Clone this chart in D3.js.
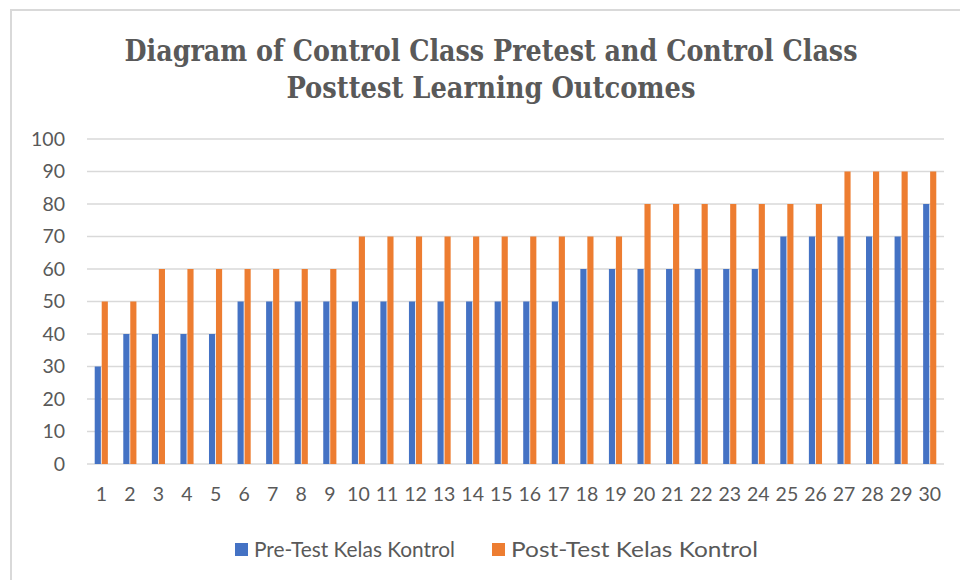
<!DOCTYPE html>
<html lang="en">
<head>
<meta charset="UTF-8">
<title>Control Class Pretest and Posttest</title>
<script src="https://d3js.org/d3.v7.min.js"></script>
<style>
  body { margin: 0; background: #fff; }
  svg { display: block; }
</style>
</head>
<body>
<div id="chart"></div>
<script>
// data
const students = d3.range(1, 31).map(String);
const preTest = [30, 40, 40, 40, 40, 50, 50, 50, 50, 50, 50, 50, 50, 50, 50, 50, 50, 60, 60, 60, 60, 60, 60, 60, 70, 70, 70, 70, 70, 80];
const postTest = [50, 50, 60, 60, 60, 60, 60, 60, 60, 70, 70, 70, 70, 70, 70, 70, 70, 70, 70, 80, 80, 80, 80, 80, 80, 80, 90, 90, 90, 90];
const seriesNames = ["Pre-Test Kelas Kontrol", "Post-Test Kelas Kontrol"];
const yTicks = [0, 10, 20, 30, 40, 50, 60, 70, 80, 90, 100];
const titleLines = ["Diagram of Control Class Pretest and Control Class", "Posttest Learning Outcomes"];

const colors = ["#4472C4", "#ED7D31"];
const W = 960, H = 580;
const plot = { left: 87, right: 944, top: 139, bottom: 464 };
const labelFont = "Lato, 'Open Sans', sans-serif";

const svg = d3.select("#chart").append("svg")
    .attr("width", W)
    .attr("height", H);

// outer frame (only top and left edges are inside the crop)
svg.append("path")
    .attr("d", `M11,${H} L11,10 L${W},10`)
    .attr("fill", "none")
    .attr("stroke", "#d9d9d9")
    .attr("stroke-width", 2);

// title
const titleWidths = [733, 409];
svg.append("g").selectAll("text")
    .data(titleLines)
    .join("text")
    .attr("x", 491)
    .attr("y", (d, i) => 61 + i * 37)
    .attr("text-anchor", "middle")
    .attr("font-family", "'DejaVu Serif Condensed', 'DejaVu Serif', serif")
    .attr("font-stretch", "condensed")
    .attr("font-weight", "bold")
    .attr("font-size", 29)
    .attr("fill", "#595959")
    .attr("textLength", (d, i) => titleWidths[i])
    .attr("lengthAdjust", "spacingAndGlyphs")
    .text(d => d);

// scales
const x = d3.scaleBand()
    .domain(students)
    .range([plot.left, plot.right])
    .paddingInner(0.54)
    .paddingOuter(0.27);

const xs = d3.scaleBand()
    .domain([0, 1])
    .range([0, x.bandwidth()])
    .paddingInner(0.12);

const y = d3.scaleLinear()
    .domain([0, 100])
    .range([plot.bottom, plot.top]);

// gridlines
svg.append("g").selectAll("line")
    .data(yTicks)
    .join("line")
    .attr("x1", plot.left)
    .attr("x2", plot.right)
    .attr("y1", d => y(d))
    .attr("y2", d => y(d))
    .attr("stroke", "#d9d9d9")
    .attr("stroke-width", 1.5);

// y axis labels
const yAxis = svg.append("g")
    .attr("transform", `translate(${plot.left - 22},0)`)
    .call(d3.axisLeft(y).tickValues(yTicks).tickSize(0).tickPadding(0));
yAxis.select(".domain").remove();
yAxis.selectAll("text")
    .attr("font-family", labelFont)
    .attr("font-size", 19.5)
    .attr("fill", "#595959");

// x axis labels
const xAxis = svg.append("g")
    .attr("transform", `translate(0,${plot.bottom})`)
    .call(d3.axisBottom(x).tickSize(0).tickPadding(23));
xAxis.select(".domain").remove();
xAxis.selectAll("text")
    .attr("font-family", labelFont)
    .attr("font-size", 19.5)
    .attr("fill", "#595959");

// bars
const rows = students.map((s, i) => ({ s, vals: [preTest[i], postTest[i]] }));
const groups = svg.append("g").selectAll("g")
    .data(rows)
    .join("g")
    .attr("transform", d => `translate(${x(d.s)},0)`);

groups.selectAll("rect")
    .data(d => d.vals.map((v, k) => ({ v, k })))
    .join("rect")
    .attr("x", d => xs(d.k))
    .attr("width", xs.bandwidth())
    .attr("y", d => y(d.v))
    .attr("height", d => y(0) - y(d.v))
    .attr("fill", d => colors[d.k]);

// legend
const legendX = [235, 492];
const legendTextW = [201, 247];
const legend = svg.append("g").selectAll("g")
    .data(seriesNames)
    .join("g")
    .attr("transform", (d, i) => `translate(${legendX[i]},543)`);
legend.append("rect")
    .attr("width", 13)
    .attr("height", 13)
    .attr("fill", (d, i) => colors[i]);
legend.append("text")
    .attr("x", 19)
    .attr("y", 14)
    .attr("font-family", labelFont)
    .attr("font-size", 20.5)
    .attr("fill", "#595959")
    .attr("textLength", (d, i) => legendTextW[i])
    .attr("lengthAdjust", "spacingAndGlyphs")
    .text(d => d);
</script>
</body>
</html>
